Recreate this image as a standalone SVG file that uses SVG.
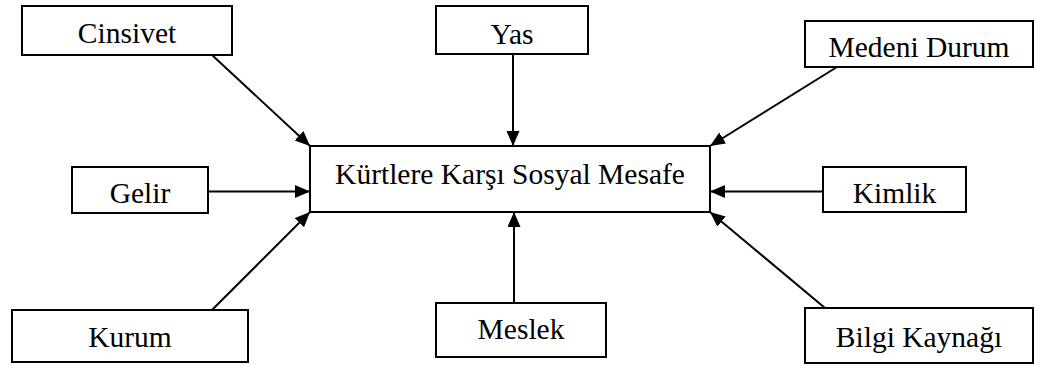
<svg xmlns="http://www.w3.org/2000/svg" width="1042" height="365" viewBox="0 0 1042 365">
<style>
.box{fill:#fff;stroke:#000;stroke-width:2}
.lbl{font-family:"Liberation Serif","Times New Roman",serif;font-size:29.5px;fill:#000;text-anchor:middle}
.edge{stroke:#000;stroke-width:2;fill:none;marker-end:url(#ah)}
</style>
<defs>
<marker id="ah" markerUnits="userSpaceOnUse" markerWidth="16" markerHeight="14" refX="15" refY="6.5" orient="auto">
<path d="M0,0 L15,6.5 L0,13 z" fill="#000"/>
</marker>
</defs>
<rect width="1042" height="365" fill="#fff"/>
<g id="connectors">
<line class="edge" x1="212" y1="55" x2="310" y2="146"/>
<line class="edge" x1="513" y1="54" x2="513" y2="146"/>
<line class="edge" x1="837" y1="67" x2="710" y2="146"/>
<line class="edge" x1="208" y1="191.5" x2="310" y2="191.5"/>
<line class="edge" x1="823" y1="191.5" x2="710" y2="191.5"/>
<line class="edge" x1="212" y1="310" x2="310" y2="212"/>
<line class="edge" x1="514" y1="303" x2="514" y2="212"/>
<line class="edge" x1="825" y1="308" x2="710" y2="212"/>
</g>
<g id="center">
<rect class="box" x="310" y="146" width="400" height="66"/>
<text class="lbl" x="510" y="184" font-family="Liberation Serif, serif">Kürtlere Karşı Sosyal Mesafe</text>
</g>
<g id="cinsivet">
<rect class="box" x="22" y="6" width="210" height="49"/>
<text class="lbl" x="127" y="43" font-family="Liberation Serif, serif">Cinsivet</text>
</g>
<g id="yas">
<rect class="box" x="436" y="6" width="152" height="48"/>
<text class="lbl" x="512" y="44" font-family="Liberation Serif, serif">Yas</text>
</g>
<g id="medeni-durum">
<rect class="box" x="805" y="21" width="228" height="46"/>
<text class="lbl" x="919" y="57" font-family="Liberation Serif, serif">Medeni Durum</text>
</g>
<g id="gelir">
<rect class="box" x="72" y="167" width="136" height="46"/>
<text class="lbl" x="140" y="203" font-family="Liberation Serif, serif">Gelir</text>
</g>
<g id="kimlik">
<rect class="box" x="823" y="167" width="143" height="45"/>
<text class="lbl" x="894.5" y="203" font-family="Liberation Serif, serif">Kimlik</text>
</g>
<g id="kurum">
<rect class="box" x="12" y="310" width="236" height="52"/>
<text class="lbl" x="130" y="347" font-family="Liberation Serif, serif">Kurum</text>
</g>
<g id="meslek">
<rect class="box" x="436" y="303" width="170" height="54"/>
<text class="lbl" x="521" y="339" font-family="Liberation Serif, serif">Meslek</text>
</g>
<g id="bilgi-kaynagi">
<rect class="box" x="805" y="308" width="228" height="55"/>
<text class="lbl" x="919" y="347" font-family="Liberation Serif, serif">Bilgi Kaynağı</text>
</g>
</svg>
